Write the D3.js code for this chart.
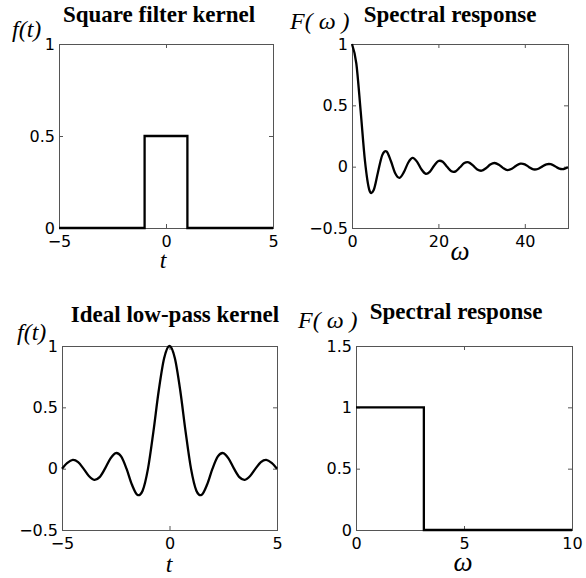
<!DOCTYPE html>
<html>
<head>
<meta charset="utf-8">
<script src="https://cdn.jsdelivr.net/npm/d3@7"></script>
<style>
  html, body { margin: 0; padding: 0; background: #fff; }
  svg { display: block; }
  .tick text { font-family: "DejaVu Sans", sans-serif; font-size: 16px; fill: #000; }
  .tick line { stroke: #555; }
  .title { font-family: "Liberation Serif", "Times New Roman", serif; font-weight: bold; font-size: 23px; }
  .lab { font-family: "Liberation Serif", "Times New Roman", serif; font-style: italic; font-size: 24px; }
  .lab.omega { font-size: 27px; }
</style>
</head>
<body>
<script>
// Square filter kernel: f(t) = 0.5 on |t| < 1
const squareT = [-5, -1, -1, 1, 1, 5];
const squareF = [0, 0, 0.5, 0.5, 0, 0];

// Its spectral response, sampled at integer ω
const sincW = [0,1,2,3,4,5,6,7,8,9,10,11,12,13,14,15,16,17,18,19,20,21,22,23,24,25,
               26,27,28,29,30,31,32,33,34,35,36,37,38,39,40,41,42,43,44,45,46,47,48,49,50];
const sincF = [1, 0.841, 0.455, 0.047, -0.189, -0.192, -0.047, 0.094, 0.124, 0.046, -0.054,
               -0.091, -0.045, 0.032, 0.071, 0.043, -0.018, -0.057, -0.042, 0.008, 0.046,
               0.040, -0.0004, -0.037, -0.038, -0.005, 0.029, 0.035, 0.010, -0.023, -0.033,
               -0.013, 0.017, 0.030, 0.016, -0.012, -0.028, -0.017, 0.008, 0.025, 0.019,
               -0.004, -0.022, -0.019, 0.0004, 0.019, 0.020, 0.003, -0.016, -0.019, -0.005];

// Ideal low-pass kernel, sampled every 0.25 in t
const lowpassT = [-5,-4.75,-4.5,-4.25,-4,-3.75,-3.5,-3.25,-3,-2.75,-2.5,-2.25,-2,-1.75,-1.5,-1.25,
                  -1,-0.75,-0.5,-0.25,0,0.25,0.5,0.75,1,1.25,1.5,1.75,2,2.25,2.5,2.75,3,3.25,
                  3.5,3.75,4,4.25,4.5,4.75,5];
const lowpassF = [0,0.047,0.071,0.053,0,-0.060,-0.091,-0.069,0,0.082,0.127,0.100,0,-0.129,-0.212,-0.180,
                  0,0.300,0.637,0.900,1,0.900,0.637,0.300,0,-0.180,-0.212,-0.129,0,0.100,0.127,0.082,0,-0.069,
                  -0.091,-0.060,0,0.053,0.071,0.047,0];

// Ideal spectral response: 1 up to the cutoff ω = π, 0 beyond
const idealW = [0, 3.1416, 3.1416, 10];
const idealF = [1, 1, 0, 0];

// Tick values
const ticksKernelX = [-5, 0, 5];
const ticksSquareY = [0, 0.5, 1];
const ticksSincX = [0, 20, 40];
const ticksSincY = [-0.5, 0, 0.5, 1];
const ticksLowpassY = [-0.5, 0, 0.5, 1];
const ticksIdealX = [0, 5, 10];
const ticksIdealY = [0, 0.5, 1, 1.5];

const W = 586, H = 578;
const svg = d3.select("body").append("svg").attr("width", W).attr("height", H);

const panels = [
  { box: [59, 44, 273, 228], xd: [-5, 5], yd: [0, 1], xt: ticksKernelX, yt: ticksSquareY,
    xs: squareT, ys: squareF, curve: d3.curveLinear,
    title: "Square filter kernel", tx: 159, ty: 22,
    ylab: "f(t)", ylx: 12, yly: 37, xlab: "t", xlx: 163, xly: 268, omega: false },
  { box: [352, 44, 568, 228], xd: [0, 50], yd: [-0.5, 1], xt: ticksSincX, yt: ticksSincY,
    xs: sincW, ys: sincF, curve: d3.curveCardinal.tension(0),
    title: "Spectral response", tx: 450, ty: 22,
    ylab: "F( ω )", ylx: 290, yly: 29, xlab: "ω", xlx: 460, xly: 260, omega: true },
  { box: [62, 346, 277, 530], xd: [-5, 5], yd: [-0.5, 1], xt: ticksKernelX, yt: ticksLowpassY,
    xs: lowpassT, ys: lowpassF, curve: d3.curveCardinal.tension(0),
    title: "Ideal low-pass kernel", tx: 175, ty: 322,
    ylab: "f(t)", ylx: 17, yly: 340, xlab: "t", xlx: 169, xly: 572, omega: false },
  { box: [356, 346, 572, 530], xd: [0, 10], yd: [0, 1.5], xt: ticksIdealX, yt: ticksIdealY,
    xs: idealW, ys: idealF, curve: d3.curveLinear,
    title: "Spectral response", tx: 456, ty: 319,
    ylab: "F( ω )", ylx: 298, yly: 328, xlab: "ω", xlx: 463, xly: 571, omega: true }
];

const fmt = d3.format("~g");

panels.forEach(p => {
  const [x0, y0, x1, y1] = p.box;
  const x = d3.scaleLinear().domain(p.xd).range([x0, x1]);
  const y = d3.scaleLinear().domain(p.yd).range([y1, y0]);
  const g = svg.append("g");

  // axes with inward ticks on all four sides
  const tk = 4;
  g.append("g").attr("transform", `translate(0,${y1})`)
    .call(d3.axisBottom(x).tickValues(p.xt).tickFormat(fmt).tickSize(-tk).tickPadding(8))
    .call(a => a.select(".domain").remove());
  g.append("g").attr("transform", `translate(0,${y0})`)
    .call(d3.axisTop(x).tickValues(p.xt).tickFormat("").tickSize(-tk))
    .call(a => a.select(".domain").remove());
  g.append("g").attr("transform", `translate(${x0},0)`)
    .call(d3.axisLeft(y).tickValues(p.yt).tickFormat(fmt).tickSize(-tk).tickPadding(4))
    .call(a => a.select(".domain").remove());
  g.append("g").attr("transform", `translate(${x1},0)`)
    .call(d3.axisRight(y).tickValues(p.yt).tickFormat("").tickSize(-tk))
    .call(a => a.select(".domain").remove());

  g.selectAll(".tick text").attr("font-family", null).attr("font-size", null);

  // frame
  g.append("rect").attr("x", x0 + 0.5).attr("y", y0 + 0.5)
    .attr("width", x1 - x0).attr("height", y1 - y0)
    .attr("fill", "none").attr("stroke", "#555").attr("stroke-width", 1);

  // data line
  const pts = p.xs.map((v, i) => [v, p.ys[i]]);
  g.append("path").datum(pts)
    .attr("d", d3.line().x(d => x(d[0])).y(d => y(d[1])).curve(p.curve))
    .attr("fill", "none").attr("stroke", "#000").attr("stroke-width", 2.3)
    .attr("stroke-linejoin", "miter");

  // labels
  g.append("text").attr("class", "title").attr("x", p.tx).attr("y", p.ty)
    .attr("text-anchor", "middle").text(p.title);
  g.append("text").attr("class", "lab").attr("x", p.ylx).attr("y", p.yly)
    .style("white-space", "pre").text(p.ylab);
  g.append("text").attr("class", p.omega ? "lab omega" : "lab")
    .attr("x", p.xlx).attr("y", p.xly)
    .attr("text-anchor", "middle").text(p.xlab);
});
</script>
</body>
</html>
